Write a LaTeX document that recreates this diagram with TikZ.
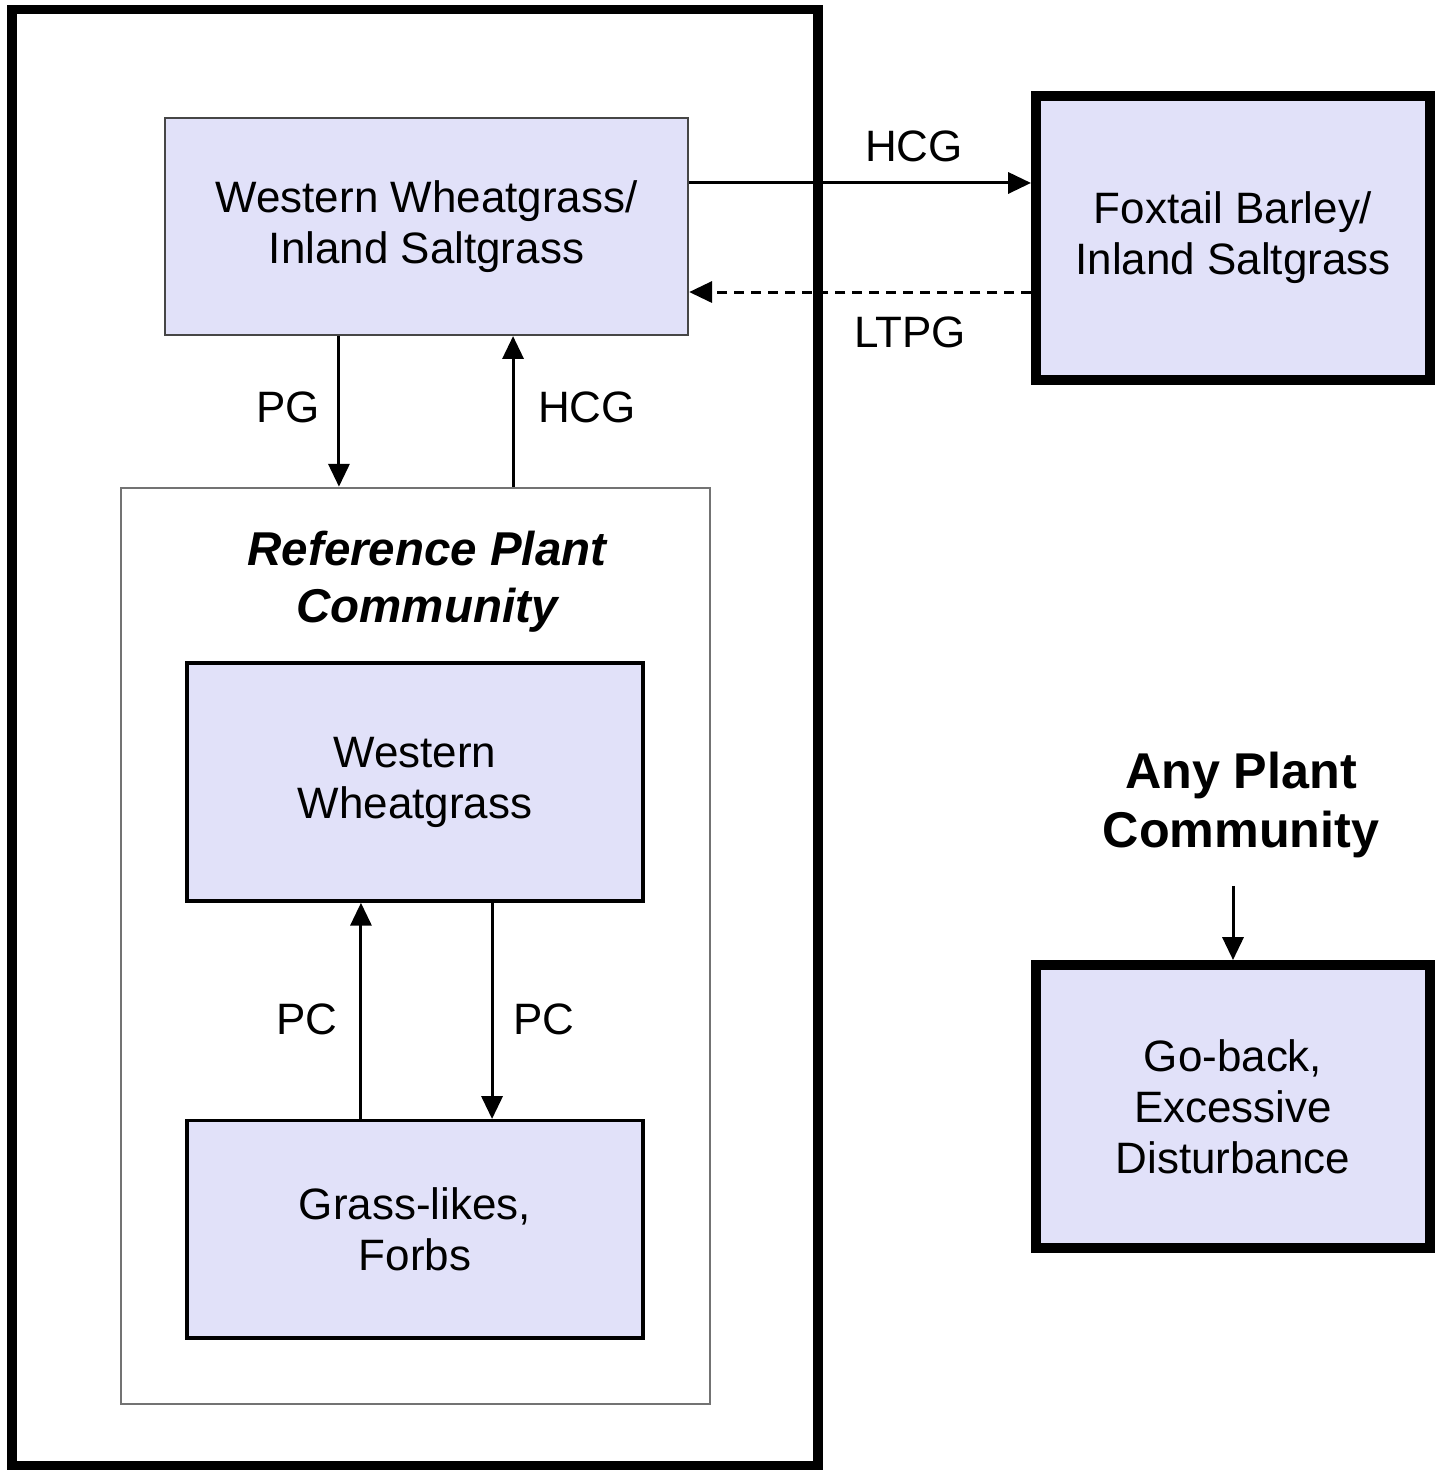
\documentclass[tikz,border=0pt]{standalone}
\usepackage{fontspec}
\setmainfont{Liberation Sans}
\usetikzlibrary{arrows.meta, positioning, calc}
\definecolor{boxfill}{RGB}{225,225,249}
\definecolor{edgegray}{RGB}{70,70,70}
\definecolor{refgray}{RGB}{115,115,115}

\begin{document}
\begin{tikzpicture}[x=0.01cm, y=-0.01cm, node distance=2.16cm,
    stand/.style={draw=edgegray, line width=0.6pt, rectangle, fill=boxfill, align=center, font=\fontsize{12.5}{14.5}\selectfont},
    inbox/.style={stand, draw=black, line width=1pt},
    heavy/.style={stand, draw=black, line width=2.8pt},
    lbl/.style={font=\fontsize{12.5}{14.5}\selectfont},
    arr/.style={-{Triangle[length=6.5pt,width=6pt]}, line width=0.85pt}]
    \useasboundingbox (0,0) rectangle (1441,1470);

    \node (frame) [draw, rectangle, line width=2.8pt, minimum width=8.06cm, minimum height=14.55cm] at (415,737.5) {};
    \node (wwis) [stand, minimum width=5.23cm, minimum height=2.17cm] at (426.5,226.5) {Western Wheatgrass/\\Inland Saltgrass};
    \node (fbis) [heavy, minimum width=3.94cm, minimum height=2.84cm] at (1233,238) {Foxtail Barley/\\Inland Saltgrass};

    \node (rpc) [draw=refgray, line width=0.6pt, rectangle, fill=white, minimum width=5.89cm, minimum height=9.16cm] at (415.5,946) {};
    \node (rpctitle) [align=center, font=\fontsize{13.5}{16.2}\selectfont\bfseries\itshape] at (427,582) {Reference Plant\\Community};
    \node (ww) [inbox, minimum width=4.56cm, minimum height=2.38cm] at (415,782) {Western\\Wheatgrass};
    \node (glf) [inbox, minimum width=4.56cm, minimum height=2.17cm, below=of ww] {Grass-likes,\\Forbs};

    \node (apc) [align=center, font=\fontsize{14.3}{17}\selectfont\bfseries] at (1241,805) {Any Plant\\Community};
    \node (gbed) [heavy, minimum width=3.94cm, minimum height=2.83cm] at (1233,1106.5) {Go-back,\\Excessive\\Disturbance};

    % transitions between states
    \draw [arr] ([yshift=4.35mm]wwis.east) -- ([yshift=4.35mm]wwis.east -| fbis.west);
    \draw [arr, dash pattern=on 2.8pt off 2pt] ([yshift=-6.55mm]wwis.east -| fbis.west) -- ([yshift=-6.55mm]wwis.east);
    \draw [arr] ([xshift=-8.75mm]wwis.south) -- ([xshift=-8.75mm]wwis.south |- rpc.north);
    \draw [arr] ([xshift=8.65mm]wwis.south |- rpc.north) -- ([xshift=8.65mm]wwis.south);
    \draw [arr] ([xshift=-5.4mm]ww.south |- glf.north) -- ([xshift=-5.4mm]ww.south);
    \draw [arr] ([xshift=7.7mm]ww.south) -- ([xshift=7.7mm]ww.south |- glf.north);
    \draw [arr] ([yshift=-1.5mm]gbed.north |- apc.south) -- (gbed.north);

    \node (hcgtop) [lbl] at (914,146) {HCG};
    \node (ltpg) [lbl] at (910,332) {LTPG};
    \node (pg) [lbl] at (288,407) {PG};
    \node (hcgup) [lbl] at (587,407) {HCG};
    \node (pcup) [lbl] at (307,1019) {PC};
    \node (pcdown) [lbl] at (544,1019) {PC};
\end{tikzpicture}
\end{document}
